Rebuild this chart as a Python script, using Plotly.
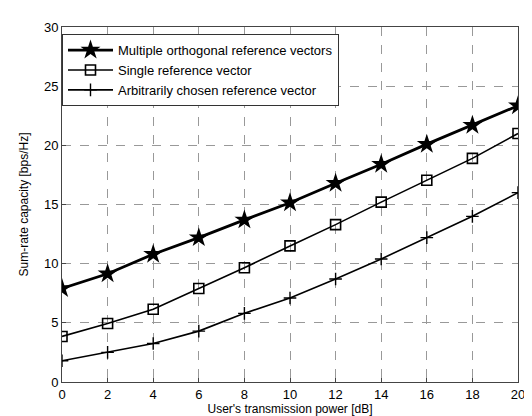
import plotly.graph_objects as go

power_db = [0, 2, 4, 6, 8, 10, 12, 14, 16, 18, 20]
multi_orth = [7.9, 9.15, 10.8, 12.2, 13.7, 15.15, 16.8, 18.4, 20.1, 21.7, 23.35]
single_ref = [3.85, 4.95, 6.15, 7.9, 9.65, 11.5, 13.3, 15.2, 17.05, 18.9, 21.0]
arbitrary = [1.8, 2.5, 3.25, 4.3, 5.8, 7.1, 8.7, 10.4, 12.2, 14.0, 16.0]

names = ["Multiple orthogonal reference vectors", "Single reference vector",
         "Arbitrarily chosen reference vector"]

fig = go.Figure()
fig.add_trace(go.Scatter(x=power_db, y=multi_orth, name=names[0], mode="lines+markers",
                         line=dict(color="black", width=2.8),
                         marker=dict(symbol="star", size=15, color="black")))
fig.add_trace(go.Scatter(x=power_db, y=single_ref, name=names[1], mode="lines+markers",
                         line=dict(color="black", width=1.6),
                         marker=dict(symbol="square-open", size=10, color="black",
                                     line=dict(width=1.6, color="black"))))
fig.add_trace(go.Scatter(x=power_db, y=arbitrary, name=names[2], mode="lines+markers",
                         line=dict(color="black", width=1.6),
                         marker=dict(symbol="cross-thin", size=9, color="black",
                                     line=dict(width=1.4, color="black"))))

axis_common = dict(showgrid=True, gridcolor="#999", griddash="dash", gridwidth=1,
                   zeroline=False, showline=True, linecolor="#444", linewidth=1,
                   mirror=True, ticks="inside", ticklen=4, tickcolor="#444",
                   tickfont=dict(family="Liberation Sans, Arial", size=13, color="black"))

fig.update_xaxes(range=[0, 20], dtick=2, **axis_common,
                 title=dict(text="User's transmission power [dB]", standoff=2,
                            font=dict(family="Liberation Sans, Arial", size=12, color="black")))
fig.update_yaxes(range=[0, 30], dtick=5, **axis_common,
                 title=dict(text="Sum-rate capacity [bps/Hz]", standoff=12,
                            font=dict(family="Liberation Sans, Arial", size=12, color="black")))

fig.update_layout(
    width=532, height=416,
    margin=dict(l=54, r=22, t=15, b=34),
    paper_bgcolor="white", plot_bgcolor="white",
    showlegend=True,
    legend=dict(x=0.0, y=0.98, xanchor="left", yanchor="top",
                bgcolor="white", bordercolor="#333", borderwidth=1,
                font=dict(family="Liberation Sans, Arial", size=13, color="black"),
                itemwidth=45, tracegroupgap=0),
)

fig.write_html("out.html")
